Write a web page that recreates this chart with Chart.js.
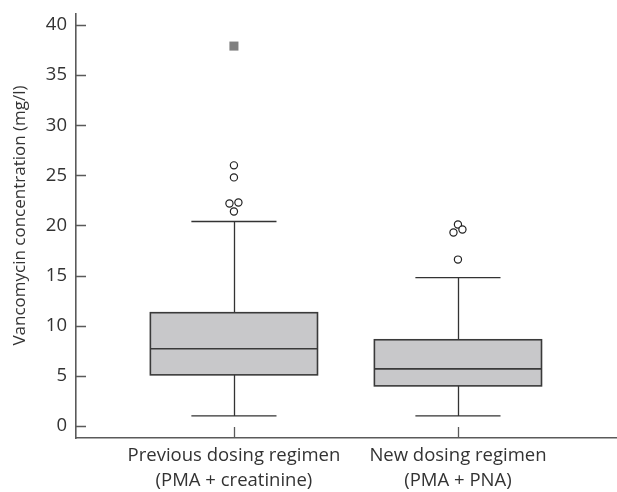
<!DOCTYPE html>
<html>
<head>
<meta charset="utf-8">
<title>Vancomycin concentration</title>
<script src="https://cdn.jsdelivr.net/npm/chart.js@4"></script>
<style>
  html, body { margin: 0; padding: 0; background: #fff; }
  #chart1 { display: block; }
</style>
</head>
<body>
<canvas id="chart1" width="617" height="492"></canvas>
<script>
// categorias (eje x)
const categorias = [
    ['Previous dosing regimen', '(PMA + creatinine)'],
    ['New dosing regimen', '(PMA + PNA)']
];

// resumen de cada caja
const bigoteInferior = [1.0, 1.0];
const cuartil1 = [5.1, 4.0];
const mediana = [7.7, 5.7];
const cuartil3 = [11.3, 8.6];
const bigoteSuperior = [20.4, 14.8];

// valores atipicos
const atipicosPrevX = [1, 1, 0.98, 1.02, 1];
const atipicosPrevY = [26.0, 24.8, 22.2, 22.3, 21.4];
const extremosPrevX = [1];
const extremosPrevY = [37.9];
const atipicosNuevoX = [2, 2.02, 1.98, 2];
const atipicosNuevoY = [20.1, 19.6, 19.3, 16.6];

// ticks del eje y
const ticksY = [0, 5, 10, 15, 20, 25, 30, 35, 40];
const tituloY = 'Vancomycin concentration (mg/l)';

const colorEje = '#5a5a5a';
const colorLinea = '#333333';
const fuente = "'Open Sans', 'Lato', sans-serif";

function puntos(xs, ys) {
    return xs.map((x, i) => { return { x: x, y: ys[i] } });
}

// dibuja cajas y bigotes con las escalas de Chart.js
const cajasPlugin = {
    id: 'cajas',
    beforeDatasetsDraw(chart) {
        const ctx = chart.ctx;
        const sx = chart.scales.x;
        const sy = chart.scales.y;
        const mitadCaja = 0.373;
        const mitadTope = 0.19;
        ctx.save();
        categorias.forEach((c, i) => {
            const xc = Math.round(sx.getPixelForValue(i + 1)) + 0.5;
            const x0 = sx.getPixelForValue(i + 1 - mitadCaja);
            const x1 = sx.getPixelForValue(i + 1 + mitadCaja);
            const t0 = sx.getPixelForValue(i + 1 - mitadTope);
            const t1 = sx.getPixelForValue(i + 1 + mitadTope);
            const yLo = sy.getPixelForValue(bigoteInferior[i]);
            const yQ1 = sy.getPixelForValue(cuartil1[i]);
            const yMed = sy.getPixelForValue(mediana[i]);
            const yQ3 = sy.getPixelForValue(cuartil3[i]);
            const yHi = sy.getPixelForValue(bigoteSuperior[i]);

            ctx.strokeStyle = colorLinea;
            ctx.lineWidth = 1.3;
            ctx.beginPath();
            ctx.moveTo(xc, yHi); ctx.lineTo(xc, yQ3);
            ctx.moveTo(xc, yQ1); ctx.lineTo(xc, yLo);
            ctx.moveTo(t0, yHi); ctx.lineTo(t1, yHi);
            ctx.moveTo(t0, yLo); ctx.lineTo(t1, yLo);
            ctx.stroke();

            ctx.fillStyle = '#c8c8ca';
            ctx.fillRect(x0, yQ3, x1 - x0, yQ1 - yQ3);
            ctx.lineWidth = 1.6;
            ctx.strokeStyle = '#3a3a3a';
            ctx.strokeRect(x0, yQ3, x1 - x0, yQ1 - yQ3);
            ctx.beginPath();
            ctx.moveTo(x0, yMed); ctx.lineTo(x1, yMed);
            ctx.stroke();
        });
        ctx.restore();
    },
    afterDraw(chart) {
        // marcas de tick hacia adentro
        const ctx = chart.ctx;
        const sx = chart.scales.x;
        const sy = chart.scales.y;
        const area = chart.chartArea;
        ctx.save();
        ctx.strokeStyle = colorEje;
        ctx.lineWidth = 1.3;
        ctx.beginPath();
        ticksY.forEach((v) => {
            const y = Math.round(sy.getPixelForValue(v)) + 0.5;
            ctx.moveTo(area.left, y);
            ctx.lineTo(area.left + 10, y);
        });
        categorias.forEach((c, i) => {
            const x = Math.round(sx.getPixelForValue(i + 1)) + 0.5;
            ctx.moveTo(x, area.bottom);
            ctx.lineTo(x, area.bottom - 11);
        });
        ctx.stroke();

        // titulo del eje y
        ctx.translate(20, sy.getPixelForValue(21));
        ctx.rotate(-Math.PI / 2);
        ctx.fillStyle = '#333';
        ctx.font = '17px ' + fuente;
        ctx.textAlign = 'center';
        ctx.textBaseline = 'middle';
        ctx.fillText(tituloY, 0, 0);
        ctx.restore();
    }
};

const data = {
    datasets: [{
        label: 'Atipicos previo',
        data: puntos(atipicosPrevX, atipicosPrevY),
        pointStyle: 'circle',
        radius: 3.6,
        borderWidth: 1.2,
        borderColor: '#222',
        backgroundColor: '#fff'
    }, {
        label: 'Extremos previo',
        data: puntos(extremosPrevX, extremosPrevY),
        pointStyle: 'rect',
        radius: 6.4,
        borderWidth: 0,
        borderColor: '#808080',
        backgroundColor: '#808080'
    }, {
        label: 'Atipicos nuevo',
        data: puntos(atipicosNuevoX, atipicosNuevoY),
        pointStyle: 'circle',
        radius: 3.6,
        borderWidth: 1.2,
        borderColor: '#222',
        backgroundColor: '#fff'
    }]
};

const config = {
    type: 'scatter',
    data: data,
    options: {
        responsive: false,
        animation: false,
        layout: { autoPadding: false, padding: { top: 14, right: 0, left: 0, bottom: 0 } },
        plugins: {
            legend: { display: false },
            tooltip: { enabled: false }
        },
        scales: {
            x: {
                type: 'linear',
                min: 0.295,
                max: 2.71,
                grid: { display: false, drawTicks: false },
                border: { display: true, color: colorEje, width: 1.6 },
                afterBuildTicks: (scale) => {
                    scale.ticks = categorias.map((c, i) => { return { value: i + 1 } });
                },
                afterFit: (scale) => {
                    scale.height = 54;
                    scale.paddingLeft = 0;
                    scale.paddingRight = 0;
                },
                ticks: {
                    autoSkip: false,
                    maxRotation: 0,
                    padding: 6,
                    color: '#333',
                    font: { family: fuente, size: 18.5, lineHeight: 1.32 },
                    callback: (v) => { return categorias[Math.round(v) - 1] || ''; }
                }
            },
            y: {
                min: -1.2,
                max: 41.1,
                grid: { display: false, drawTicks: false },
                border: { display: true, color: colorEje, width: 1.6 },
                afterBuildTicks: (scale) => {
                    scale.ticks = ticksY.map((v) => { return { value: v } });
                },
                afterFit: (scale) => {
                    scale.width = 76;
                    scale.paddingTop = 0;
                    scale.paddingBottom = 0;
                },
                ticks: {
                    padding: 9,
                    color: '#333',
                    font: { family: fuente, size: 18.5 }
                }
            }
        }
    },
    plugins: [cajasPlugin]
};

const canva = document.getElementById('chart1');
const grafico = new Chart(canva, config);
</script>
</body>
</html>
